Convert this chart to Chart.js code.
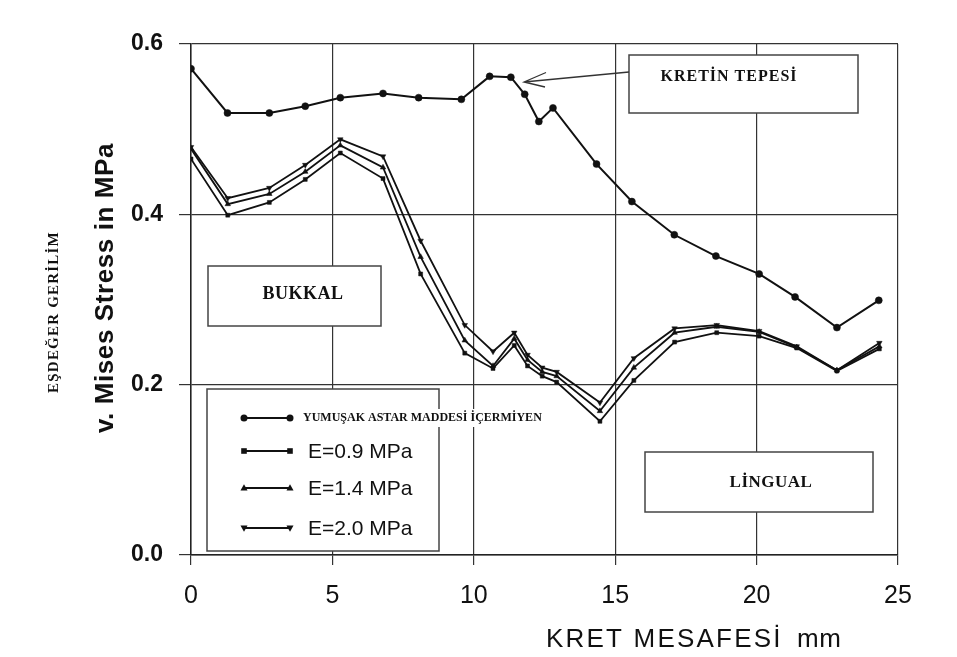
<!DOCTYPE html>
<html><head><meta charset="utf-8">
<script src="https://cdn.jsdelivr.net/npm/chart.js@4.4.0/dist/chart.umd.min.js"></script>
<style>html,body{margin:0;padding:0;background:#fff;}#wrap{width:957px;height:657px;position:relative;}</style>
</head><body><div id="wrap"><canvas id="c" width="957" height="657"></canvas></div>
<script>
// ---- data ----
const seriesNames = ['YUMUŞAK ASTAR MADDESİ İÇERMİYEN', 'E=0.9 MPa', 'E=1.4 MPa', 'E=2.0 MPa'];
const xTop = [0, 1.29, 2.77, 4.04, 5.28, 6.79, 8.05, 9.56, 10.56, 11.31, 11.8, 12.3, 12.8, 14.34, 15.59, 17.09, 18.56, 20.09, 21.36, 22.84, 24.32];
const yTop = [0.571, 0.519, 0.519, 0.527, 0.537, 0.542, 0.537, 0.535, 0.562, 0.561, 0.541, 0.509, 0.525, 0.459, 0.415, 0.376, 0.351, 0.330, 0.303, 0.267, 0.299];
const xLow = [0, 1.3, 2.77, 4.04, 5.28, 6.79, 8.12, 9.68, 10.68, 11.43, 11.9, 12.42, 12.93, 14.46, 15.66, 17.1, 18.59, 20.09, 21.42, 22.84, 24.34];
const yE09 = [0.465, 0.399, 0.414, 0.441, 0.472, 0.442, 0.330, 0.237, 0.219, 0.246, 0.222, 0.210, 0.203, 0.157, 0.205, 0.250, 0.261, 0.257, 0.243, 0.216, 0.242];
const yE14 = [0.477, 0.412, 0.424, 0.450, 0.481, 0.455, 0.350, 0.252, 0.222, 0.254, 0.229, 0.215, 0.210, 0.169, 0.220, 0.261, 0.268, 0.262, 0.244, 0.217, 0.245];
const yE20 = [0.479, 0.419, 0.431, 0.458, 0.488, 0.468, 0.369, 0.270, 0.239, 0.261, 0.235, 0.220, 0.215, 0.179, 0.231, 0.266, 0.270, 0.263, 0.245, 0.217, 0.249];
const xTicks = [0, 5, 10, 15, 20, 25];
const yTicks = [0.0, 0.2, 0.4, 0.6];
const regionLabels = ['KRETİN TEPESİ', 'BUKKAL', 'LİNGUAL'];
const xTitle = 'KRET MESAFESİ';
const xUnit = 'mm';
const yTitle = 'v. Mises Stress in MPa';
const yTitle2 = 'EŞDEĞER GERİLİM';

// ---- chart ----
const SANS = '"Liberation Sans", Arial, sans-serif';
const SERIF = '"Liberation Serif", "Times New Roman", serif';
const INK = '#111';
const pointStyles = [
  {style: 'circle', r: 3.5, rot: 0},
  {style: 'rect', r: 2.8, rot: 0},
  {style: 'triangle', r: 3.2, rot: 0},
  {style: 'triangle', r: 3.2, rot: 180}
];
const seriesY = [yTop, yE09, yE14, yE20];
const seriesX = [xTop, xLow, xLow, xLow];

const datasets = seriesNames.map((name, k) => ({
  label: name,
  data: seriesX[k].map((x, i) => ({x: x, y: seriesY[k][i]})),
  borderColor: INK,
  backgroundColor: INK,
  borderWidth: k === 0 ? 2 : 1.8,
  pointStyle: pointStyles[k].style,
  pointRotation: pointStyles[k].rot,
  pointRadius: pointStyles[k].r,
  pointBackgroundColor: INK,
  pointBorderColor: INK,
  pointBorderWidth: 0.5,
  tension: 0,
  fill: false
}));

function drawMarker(ctx, k, x, y) {
  const p = pointStyles[k];
  ctx.save();
  ctx.fillStyle = INK;
  ctx.translate(x, y);
  ctx.rotate(p.rot * Math.PI / 180);
  ctx.beginPath();
  if (p.style === 'circle') {
    ctx.arc(0, 0, p.r, 0, Math.PI * 2);
  } else if (p.style === 'rect') {
    ctx.rect(-p.r, -p.r, p.r * 2, p.r * 2);
  } else {
    ctx.moveTo(0, -p.r * 1.2);
    ctx.lineTo(p.r * 1.1, p.r * 0.8);
    ctx.lineTo(-p.r * 1.1, p.r * 0.8);
    ctx.closePath();
  }
  ctx.fill();
  ctx.restore();
}

const deco = {
  id: 'deco',
  afterDraw(chart) {
    const ctx = chart.ctx;
    ctx.save();
    function box(x, y, w, h) {
      ctx.fillStyle = '#fff';
      ctx.fillRect(x, y, w, h);
      ctx.strokeStyle = '#444';
      ctx.lineWidth = 1.5;
      ctx.strokeRect(x, y, w, h);
    }
    function txt(s, x, y, font, align, spacing) {
      ctx.font = font;
      ctx.fillStyle = INK;
      ctx.textAlign = align || 'center';
      ctx.textBaseline = 'middle';
      ctx.letterSpacing = spacing || '0px';
      ctx.fillText(s, x, y);
      ctx.letterSpacing = '0px';
    }
    // region boxes
    box(629, 55, 229, 58);
    txt(regionLabels[0], 729, 77, 'bold 16px ' + SERIF, 'center', '1px');
    box(208, 266, 173, 60);
    txt(regionLabels[1], 303, 294, 'bold 18px ' + SERIF, 'center', '0.5px');
    box(645, 452, 228, 60);
    txt(regionLabels[2], 771, 483, 'bold 17px ' + SERIF, 'center', '0.5px');

    // arrow
    ctx.strokeStyle = '#333';
    ctx.lineWidth = 1.3;
    ctx.beginPath();
    ctx.moveTo(629, 72);
    ctx.lineTo(524, 82);
    ctx.moveTo(546, 72.5);
    ctx.lineTo(524, 82);
    ctx.lineTo(545, 87);
    ctx.stroke();

    // legend
    box(207, 389, 232, 162);
    ctx.fillStyle = '#fff';
    ctx.fillRect(300, 409, 242, 18);
    const rows = [418, 451, 488, 528];
    rows.forEach((y, k) => {
      ctx.strokeStyle = INK;
      ctx.lineWidth = 1.8;
      ctx.beginPath();
      ctx.moveTo(244, y);
      ctx.lineTo(290, y);
      ctx.stroke();
      drawMarker(ctx, k, 244, y);
      drawMarker(ctx, k, 290, y);
      if (k === 0) {
        txt(seriesNames[k], 303, y, 'bold 12px ' + SERIF, 'left', '0px');
      } else {
        txt(seriesNames[k], 308, y + 1, '21px ' + SANS, 'left');
      }
    });

    // axis titles
    ctx.font = '26px ' + SANS;
    ctx.fillStyle = INK;
    ctx.textAlign = 'left';
    ctx.textBaseline = 'alphabetic';
    ctx.letterSpacing = '2.2px';
    ctx.fillText(xTitle, 546, 647);
    ctx.letterSpacing = '0.5px';
    ctx.fillText(xUnit, 797, 647);
    ctx.letterSpacing = '0px';

    ctx.save();
    ctx.translate(106, 288);
    ctx.rotate(-Math.PI / 2);
    txt(yTitle, 0, 0, 'bold 26px ' + SANS, 'center', '0.6px');
    ctx.restore();

    ctx.save();
    ctx.translate(54, 312);
    ctx.rotate(-Math.PI / 2);
    txt(yTitle2, 0, 0, 'bold 15px ' + SERIF, 'center', '1.2px');
    ctx.restore();

    ctx.restore();
  }
};

new Chart(document.getElementById('c'), {
  type: 'line',
  data: {datasets: datasets},
  options: {
    responsive: false,
    devicePixelRatio: 1,
    animation: false,
    layout: {padding: {top: 44, right: 59, bottom: 0, left: 0}},
    plugins: {legend: {display: false}, tooltip: {enabled: false}, title: {display: false}},
    scales: {
      x: {
        type: 'linear', min: 0, max: 25,
        afterBuildTicks: s => { s.ticks = xTicks.map(v => ({value: v})); },
        afterFit: s => { s.height = 102; },
        ticks: {font: {family: SANS, size: 25}, color: INK, padding: 16, maxRotation: 0,
                callback: v => String(v)},
        grid: {color: '#333', lineWidth: 1.2, tickLength: 10, drawTicks: true},
        border: {color: '#222', width: 1.5}
      },
      y: {
        type: 'linear', min: 0, max: 0.6,
        afterBuildTicks: s => { s.ticks = yTicks.map(v => ({value: v})); },
        afterFit: s => { s.width = 191; },
        ticks: {font: {family: SANS, size: 23, weight: 'bold'}, color: INK, padding: 16,
                callback: v => Number(v).toFixed(1)},
        grid: {color: '#333', lineWidth: 1.2, tickLength: 12, drawTicks: true},
        border: {color: '#222', width: 1.5}
      }
    }
  },
  plugins: [deco]
});
</script>
</body></html>
